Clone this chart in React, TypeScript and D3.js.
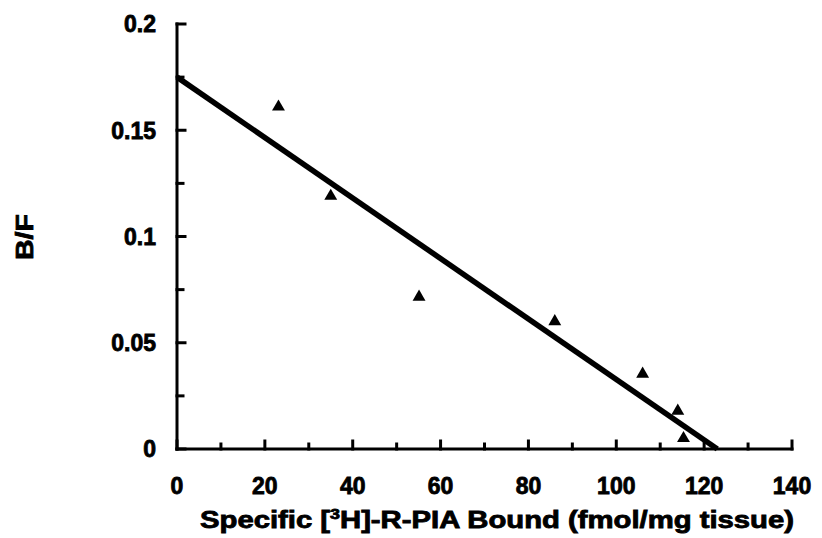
import React from 'react';
import * as d3 from 'd3';

// Scatchard data
const boundValues = [23.1, 35.0, 55.1, 86.0, 106.0, 114.0, 115.3];
const ratioValues = [0.161, 0.119, 0.0715, 0.060, 0.0353, 0.0179, 0.005];

// fitted line end points (x, B/F)
const fitX = [0, 123];
const fitY = [0.175, 0];

const xMajorTicks = [0, 20, 40, 60, 80, 100, 120, 140];
const xMinorTicks = [10, 30, 50, 70, 90, 110, 130];
const yMajorTicks = [0, 0.05, 0.1, 0.15, 0.2];
const yMinorTicks = [0.025, 0.075, 0.125, 0.175];
const yTickLabels = ['0', '0.05', '0.1', '0.15', '0.2'];

const W = 822;
const H = 538;
const FONT = '"Liberation Sans", Arial, Helvetica, sans-serif';

const App = () => {
  const x = d3.scaleLinear().domain([0, 140]).range([177, 792]);
  const y = d3.scaleLinear().domain([0, 0.2]).range([449, 24]);

  const line = d3.line<number>()
    .x((d, i) => x(fitX[i]))
    .y(d => y(d));

  const tri = d3.symbol().type(d3.symbolTriangle).size(72)();

  return (
    <svg width={W} height={H} style={{ position: 'absolute', left: 0, top: 0, background: '#fff' }}>
      {/* axes */}
      <g stroke="#000" strokeWidth={3} fill="none" strokeLinecap="square">
        <line x1={x(0)} x2={x(0)} y1={y(0)} y2={y(0.2)} />
        <line x1={x(0)} x2={x(140)} y1={y(0)} y2={y(0)} />
        {yMajorTicks.map(t => (
          <line key={'ym' + t} x1={x(0)} x2={x(0) + 8} y1={y(t)} y2={y(t)} />
        ))}
        {yMinorTicks.map(t => (
          <line key={'yn' + t} x1={x(0)} x2={x(0) + 6} y1={y(t)} y2={y(t)} />
        ))}
        {xMajorTicks.map(t => (
          <line key={'xm' + t} x1={x(t)} x2={x(t)} y1={y(0)} y2={y(0) - 8} />
        ))}
        {xMinorTicks.map(t => (
          <line key={'xn' + t} x1={x(t)} x2={x(t)} y1={y(0)} y2={y(0) - 5} />
        ))}
      </g>

      {/* fitted line */}
      <path d={line(fitY) || ''} stroke="#000" strokeWidth={5.5} fill="none" />

      {/* data points */}
      {boundValues.map((b, i) => (
        <path key={i} d={tri || ''} transform={`translate(${x(b)},${y(ratioValues[i])})`} fill="#000" />
      ))}

      {/* tick labels */}
      <g fontFamily={FONT} fontWeight="bold" fontSize={23} fill="#000" stroke="#000" strokeWidth={0.8}>
        {yMajorTicks.map((t, i) => (
          <text key={'yl' + t} x={156} y={y(t)} dy="0.36em" textAnchor="end">{yTickLabels[i]}</text>
        ))}
        {xMajorTicks.map(t => (
          <text key={'xl' + t} x={x(t)} y={494} textAnchor="middle">{t}</text>
        ))}
      </g>

      {/* axis titles */}
      <text x={24} y={237} transform="rotate(-90 24 237)" textAnchor="middle" dy="0.36em"
        fontFamily={FONT} fontWeight="bold" fontSize={24} stroke="#000" strokeWidth={0.8}
        textLength={46} lengthAdjust="spacingAndGlyphs">B/F</text>
      <text x={497} y={528} textAnchor="middle" fontFamily={FONT} fontWeight="bold" fontSize={23}
        stroke="#000" strokeWidth={0.8} textLength={594} lengthAdjust="spacingAndGlyphs">
        Specific [<tspan fontSize={14} dy={-9}>3</tspan><tspan dy={9}>H]-R-PIA  Bound (fmol/mg tissue)</tspan>
      </text>
    </svg>
  );
};

export default App;
